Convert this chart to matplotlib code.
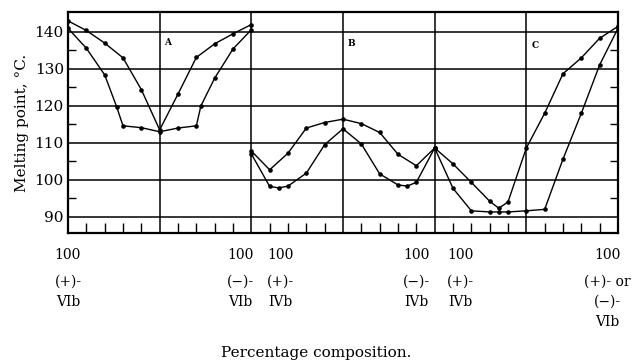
"""Melting point diagram of the VIb / IVb diastereoisomer mixtures."""
from matplotlib import pyplot as plt
from matplotlib.ticker import FixedLocator

# Panel A: (+)-VIb -> (-)-VIb
a_v_x = [0, 10, 20, 30, 40, 50, 60, 70, 80, 90, 100]
a_v_y = [143, 140.4, 137, 133, 124.4, 113.5, 123.2, 133.1, 136.8, 139.5, 142]
a_f_x = [0, 10, 20, 26.5, 30, 40, 50, 60, 70, 72.5, 80, 90, 100]
a_f_y = [141, 135.6, 128.4, 119.8, 114.6, 114.1, 113.0, 114, 114.6, 120, 127.5, 135.4, 140.6]

# Panel B: (+)-IVb -> (-)-IVb
b_u_x = [100, 110, 120, 130, 140, 150, 160, 170, 180, 190, 200]
b_u_y = [107.8, 102.7, 107.2, 114, 115.5, 116.4, 115.2, 112.8, 106.9, 103.8, 108.6]
b_l_x = [100, 110, 115, 120, 130, 140, 150, 160, 170, 180, 185, 190, 200]
b_l_y = [107, 98.2, 97.8, 98.3, 101.8, 109.5, 113.8, 109.7, 101.6, 98.6, 98.3, 99.3, 108.6]

# Panel C: (+)-IVb -> (+)- or (-)-VIb
c_v_x = [200, 210, 220, 230, 235, 240, 250, 260, 270, 280, 290, 300]
c_v_y = [108.6, 104.3, 99.3, 94.2, 92.3, 94, 108.6, 118, 128.7, 133, 138.3, 141.5]
c_f_x = [200, 210, 220, 230, 235, 240, 250, 260, 270, 280, 290, 300]
c_f_y = [108.6, 97.7, 91.6, 91.3, 91.3, 91.3, 91.6, 92, 105.6, 118, 131.1, 141]

panel_names = ['A', 'B', 'C']
panel_name_x = [54.5, 154.7, 254.7]
panel_name_y = [137.1, 137, 136.4]

bottom_x = [0, 94, 116, 190, 214, 294]
bottom_labels = [
    '(+)-\nVIb',
    '(\u2212)-\nVIb',
    '(+)-\nIVb',
    '(\u2212)-\nIVb',
    '(+)-\nIVb',
    '(+)- or\n(\u2212)-\nVIb',
]

plt.rcParams['font.family'] = ['DejaVu Serif']

fig = plt.figure(figsize=(6.33, 3.61), dpi=100)
ax = fig.add_axes([68 / 633, 128 / 361, 550 / 633, 221 / 361])

ax.set_xlim(0, 300)
ax.set_ylim(85.6, 145.4)

# grid and panel separators
for yv in range(90, 141, 10):
    ax.axhline(yv, color='black', lw=1.1, zorder=1)
for xv in [50, 100, 150, 200, 250]:
    ax.axvline(xv, color='black', lw=1.1, zorder=1)

curves = [(a_v_x, a_v_y), (a_f_x, a_f_y), (b_u_x, b_u_y), (b_l_x, b_l_y),
          (c_v_x, c_v_y), (c_f_x, c_f_y)]
for cx, cy in curves:
    ax.plot(cx, cy, color='black', lw=1.0, marker='o', ms=2.3, zorder=3)

for name, nx, ny in zip(panel_names, panel_name_x, panel_name_y):
    ax.text(nx, ny, name, fontsize=6.5, fontweight='bold', ha='center',
            va='center')

# ticks
ax.set_yticks(range(90, 141, 10))
ax.yaxis.set_minor_locator(FixedLocator([95, 105, 115, 125, 135]))
ax.tick_params(axis='y', which='major', length=0, labelsize=11, pad=3)
ax.tick_params(axis='y', which='minor', direction='in', length=6,
               width=1.0, left=True, right=True)
ax.set_xticks([])
ax.xaxis.set_minor_locator(FixedLocator(
    [v for v in range(10, 300, 10) if v % 50 != 0]))
ax.tick_params(axis='x', which='minor', direction='in', length=7, width=1.0)

for sp in ax.spines.values():
    sp.set_linewidth(1.6)

ax.set_ylabel('Melting point, \u00b0C.', fontsize=11, labelpad=4)

xt = ax.get_xaxis_transform()
for bx, lab in zip(bottom_x, bottom_labels):
    ax.text(bx, -0.0995, '100', transform=xt, ha='center', va='center',
            fontsize=10)
    ax.text(bx, -0.19, lab, transform=xt, ha='center', va='top',
            fontsize=10, linespacing=1.55)

fig.text(316 / 633, 1 - 353 / 361, 'Percentage composition.', ha='center',
         va='center', fontsize=11)

fig.savefig('out.png', dpi=100)
